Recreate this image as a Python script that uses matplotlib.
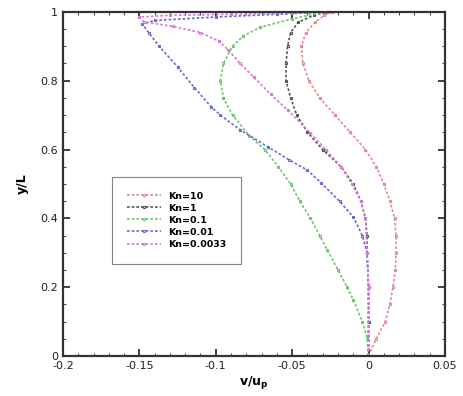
import matplotlib
matplotlib.use("Agg")
import matplotlib.pyplot as plt
from matplotlib.ticker import MultipleLocator

# Vertical velocity profiles v/u_p across the channel height y/L
labels = ["Kn=10", "Kn=1", "Kn=0.1", "Kn=0.01", "Kn=0.0033"]
colors = ["#e58a8a", "#555555", "#6cc76c", "#6a6ad6", "#d77ad7"]

y_kn10 = [0, 0.05, 0.1, 0.15, 0.2, 0.25, 0.3, 0.35, 0.4, 0.45, 0.5, 0.55, 0.6, 0.65, 0.7, 0.75, 0.8, 0.85, 0.9, 0.94, 0.97, 0.99, 1.0]
v_kn10 = [0, 0.005, 0.011, 0.014, 0.016, 0.0175, 0.018, 0.018, 0.017, 0.014, 0.010, 0.005, -0.002, -0.012, -0.022, -0.032, -0.039, -0.043, -0.044, -0.041, -0.035, -0.029, -0.024]

y_kn1 = [0, 0.1, 0.2, 0.3, 0.35, 0.4, 0.45, 0.5, 0.55, 0.6, 0.65, 0.7, 0.75, 0.8, 0.85, 0.9, 0.94, 0.97, 0.99, 1.0]
v_kn1 = [0, 0, 0, -0.001, -0.001, -0.002, -0.005, -0.010, -0.018, -0.030, -0.040, -0.047, -0.051, -0.054, -0.054, -0.053, -0.051, -0.046, -0.036, -0.027]

y_kn01 = [0, 0.055, 0.1, 0.163, 0.2, 0.25, 0.308, 0.35, 0.4, 0.45, 0.5, 0.55, 0.6, 0.64, 0.7, 0.75, 0.8, 0.85, 0.9, 0.93, 0.955, 0.98, 1.0]
v_kn01 = [0, -0.001, -0.004, -0.010, -0.014, -0.020, -0.027, -0.032, -0.038, -0.045, -0.051, -0.059, -0.068, -0.078, -0.089, -0.095, -0.097, -0.095, -0.089, -0.082, -0.071, -0.050, -0.028]

y_kn001 = [0, 0.2, 0.3, 0.35, 0.404, 0.45, 0.503, 0.54, 0.57, 0.608, 0.657, 0.7, 0.724, 0.78, 0.84, 0.9, 0.94, 0.965, 0.975, 0.985, 0.993, 1.0]
v_kn001 = [0, 0, -0.001, -0.004, -0.010, -0.019, -0.031, -0.040, -0.052, -0.066, -0.084, -0.097, -0.103, -0.114, -0.125, -0.137, -0.144, -0.148, -0.140, -0.100, -0.060, -0.027]

y_kn0033 = [0, 0.2, 0.3, 0.4, 0.45, 0.5, 0.55, 0.6, 0.648, 0.715, 0.76, 0.81, 0.85, 0.89, 0.915, 0.94, 0.958, 0.971, 0.985, 0.99, 0.993, 0.997, 1.0]
v_kn0033 = [0, 0, -0.001, -0.002, -0.005, -0.011, -0.018, -0.028, -0.038, -0.053, -0.064, -0.075, -0.084, -0.092, -0.098, -0.110, -0.128, -0.147, -0.150, -0.130, -0.090, -0.050, -0.027]

series = [(v_kn10, y_kn10), (v_kn1, y_kn1), (v_kn01, y_kn01), (v_kn001, y_kn001), (v_kn0033, y_kn0033)]

fig = plt.figure(figsize=(4.63, 3.96), dpi=100)
ax = fig.add_axes([0.136, 0.101, 0.825, 0.869])

for (v, y), c, lab in zip(series, colors, labels):
    ax.plot(v, y, color=c, lw=1.2, ls=(0, (1.6, 1.2)), marker="s", ms=2.0,
            mfc="none", mec=c, mew=0.8, label=lab)

ax.set_xlim(-0.2, 0.05)
ax.set_ylim(0, 1)
ax.xaxis.set_minor_locator(MultipleLocator(0.01))
ax.yaxis.set_minor_locator(MultipleLocator(0.05))
ax.set_xticks([-0.2, -0.15, -0.1, -0.05, 0, 0.05])
ax.set_xticklabels(["-0.2", "-0.15", "-0.1", "-0.05", "0", "0.05"])
ax.set_yticks([0, 0.2, 0.4, 0.6, 0.8, 1])
ax.set_yticklabels(["0", "0.2", "0.4", "0.6", "0.8", "1"])
ax.tick_params(which="both", direction="in", top=True, right=True, labelsize=8, colors="#222222")
ax.tick_params(which="major", length=5, width=1.2)
ax.tick_params(which="minor", length=2.5, width=0.6)
for s in ax.spines.values():
    s.set_linewidth(1.6)
    s.set_color("#333333")

ax.set_xlabel(r"v/u$_\mathbf{p}$", fontsize=9, fontweight="bold", labelpad=2)
ax.set_ylabel("y/L", fontsize=9, fontweight="bold", labelpad=8)

leg = ax.legend(loc="upper left", bbox_to_anchor=(0.117, 0.535), prop={"size": 6.8, "weight": "bold"},
                frameon=True, fancybox=False, edgecolor="#666666", handlelength=3.5,
                labelspacing=0.32, borderpad=1.6, handletextpad=0.8, markerscale=1.0)
leg.get_frame().set_linewidth(0.8)

fig.savefig("out.png", dpi=100)
